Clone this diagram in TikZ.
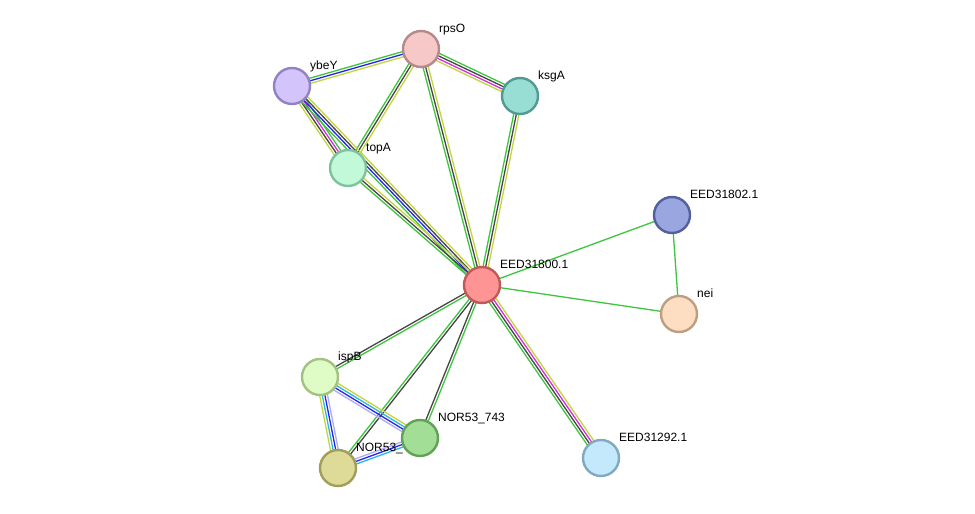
\documentclass[tikz,border=0pt]{standalone}
\usepackage{fontspec}
\setmainfont{Liberation Sans}
\usetikzlibrary{calc,backgrounds}

\definecolor{nbgreen}{HTML}{3DC63D}
\definecolor{cogray}{HTML}{454545}
\definecolor{exmag}{HTML}{D82ED8}
\definecolor{txyel}{HTML}{C2D63C}
\definecolor{ocblue}{HTML}{2424F0}
\definecolor{dbcyan}{HTML}{2EB6DC}
\definecolor{holav}{HTML}{ABABFA}
% node fill / border
\definecolor{rpsOf}{HTML}{F7C8C8}\definecolor{rpsOd}{HTML}{B48A8A}
\definecolor{ybeYf}{HTML}{D4C4FC}\definecolor{ybeYd}{HTML}{9282C4}
\definecolor{ksgAf}{HTML}{98DED5}\definecolor{ksgAd}{HTML}{529A92}
\definecolor{topAf}{HTML}{C2FAD9}\definecolor{topAd}{HTML}{80C29C}
\definecolor{e800f}{HTML}{FF9494}\definecolor{e800d}{HTML}{C05A5A}
\definecolor{e802f}{HTML}{9AA6E0}\definecolor{e802d}{HTML}{52609E}
\definecolor{neif}{HTML}{FDDEC2}\definecolor{neid}{HTML}{BE9E80}
\definecolor{ispBf}{HTML}{E0FCC6}\definecolor{ispBd}{HTML}{A2C284}
\definecolor{n53bf}{HTML}{DEDB98}\definecolor{n53bd}{HTML}{A09E58}
\definecolor{n743f}{HTML}{A2DE96}\definecolor{n743d}{HTML}{62A258}
\definecolor{e292f}{HTML}{C4E9FC}\definecolor{e292d}{HTML}{82A8C2}

\tikzset{
  prot/.style={circle, minimum size=36pt, inner sep=0pt, line width=2.4pt, fill=#1f, draw=#1d},
  plabel/.style={anchor=base west, inner sep=0pt, font=\fontsize{12}{14}\selectfont}
}

% one STRING edge: #1 -- #2, #3 lines, colours #4
\newcommand\stredge[4]{%
  \foreach \c [count=\i] in {#4} {
    \pgfmathsetmacro\off{(\i-(#3+1)/2)*2.6}
    \draw[\c, line width=1.3pt] ($(#1.center)!\off pt!90:(#2.center)$) -- ($(#2.center)!\off pt!-90:(#1.center)$);
  }}

\begin{document}
\begin{tikzpicture}[x=1pt, y=-1pt, line cap=round, line join=round]
    \useasboundingbox (0,0) rectangle (975,514);
    \node[prot=rpsO] (rpsO) at (421,49) {};
    \node[prot=ybeY] (ybeY) at (292,86) {};
    \node[prot=ksgA] (ksgA) at (520,96) {};
    \node[prot=topA] (topA) at (348,168) {};
    \node[prot=e800] (e800) at (482,285) {};
    \node[prot=e802] (e802) at (672,215) {};
    \node[prot=nei] (nei) at (679,314) {};
    \node[prot=ispB] (ispB) at (320,377) {};
    \node[prot=n53b] (n53b) at (338,468) {};
    \node[prot=n743] (n743) at (420,438) {};
    \node[prot=e292] (e292) at (601,458) {};

    \node[plabel] (rpsO-l) at ($(rpsO)+(18,-17)$) {rpsO};
    \node[plabel] (ybeY-l) at ($(ybeY)+(18,-17)$) {ybeY};
    \node[plabel] (ksgA-l) at ($(ksgA)+(18,-17)$) {ksgA};
    \node[plabel] (topA-l) at ($(topA)+(18,-17)$) {topA};
    \node[plabel] (e800-l) at ($(e800)+(18,-17)$) {EED31800.1};
    \node[plabel] (e802-l) at ($(e802)+(18,-17)$) {EED31802.1};
    \node[plabel] (nei-l) at ($(nei)+(18,-17)$) {nei};
    \node[plabel] (ispB-l) at ($(ispB)+(18,-17)$) {ispB};
    \node[plabel] (n743-l) at ($(n743)+(18,-17)$) {NOR53\_743};
    \node[plabel] (n53b-l) at ($(n53b)+(18,-17)$) {NOR53\_};
    \node[plabel] (e292-l) at ($(e292)+(18,-17)$) {EED31292.1};

    \begin{pgfonlayer}{background}
    \stredge{ybeY}{rpsO}{3}{txyel,ocblue,nbgreen}
    \stredge{rpsO}{ksgA}{4}{txyel,exmag,cogray,nbgreen}
    \stredge{rpsO}{topA}{3}{nbgreen,cogray,txyel}
    \stredge{rpsO}{e800}{3}{nbgreen,cogray,txyel}
    \stredge{ksgA}{e800}{3}{nbgreen,cogray,txyel}
    \stredge{ybeY}{topA}{4}{txyel,cogray,exmag,nbgreen}
    \stredge{ybeY}{e800}{4}{nbgreen,ocblue,cogray,txyel}
    \stredge{topA}{e800}{3}{nbgreen,cogray,txyel}
    \stredge{e800}{e802}{1}{nbgreen}
    \stredge{e800}{nei}{1}{nbgreen}
    \stredge{e802}{nei}{1}{nbgreen}
    \stredge{e800}{e292}{4}{nbgreen,cogray,exmag,txyel}
    \stredge{e800}{ispB}{2}{cogray,nbgreen}
    \stredge{e800}{n53b}{2}{nbgreen,cogray}
    \stredge{e800}{n743}{2}{cogray,nbgreen}
    \stredge{ispB}{n743}{4}{holav,ocblue,dbcyan,txyel}
    \stredge{ispB}{n53b}{4}{txyel,dbcyan,ocblue,holav}
    \stredge{n743}{n53b}{3}{holav,ocblue,dbcyan}
    \end{pgfonlayer}
  \end{tikzpicture}
\end{document}
